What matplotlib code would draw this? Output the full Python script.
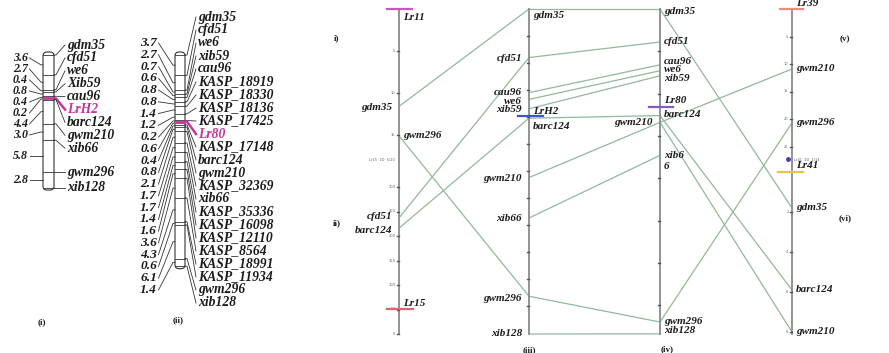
import matplotlib
matplotlib.use('Agg')
import matplotlib.pyplot as plt
from matplotlib.patches import FancyBboxPatch
import numpy as np

# ------------------------------------------------------------------ data
# Linkage map (i)
map1_markers = ['gdm35', 'cfd51', 'we6', 'Xib59', 'cau96', 'LrH2', 'barc124',
                'gwm210', 'xib66', 'gwm296', 'xib128']
map1_intervals = [3.6, 2.7, 0.4, 0.8, 0.4, 0.2, 4.4, 3.0, 5.8, 2.8]
map1_gene = 'LrH2'

# Linkage map (ii)
map2_markers = ['gdm35', 'cfd51', 'we6', 'xib59', 'cau96', 'KASP_18919',
                'KASP_18330', 'KASP_18136', 'KASP_17425', 'Lr80', 'KASP_17148',
                'barc124', 'gwm210', 'KASP_32369', 'xib66', 'KASP_35336',
                'KASP_16098', 'KASP_12110', 'KASP_8564', 'KASP_18991',
                'KASP_11934', 'gwm296', 'xib128']
map2_intervals = [3.7, 2.7, 0.7, 0.6, 0.8, 0.8, 1.4, 1.2, 0.2, 0.6, 0.4, 0.8,
                  2.1, 1.7, 1.7, 1.4, 1.6, 3.6, 4.3, 0.6, 6.1, 1.4]
map2_gene = 'Lr80'

# Comparative axis A: two stacked maps i) and ii)
axA_top_markers = ['Lr11', 'gdm35', 'gwm296']
axA_top_pos = [0.0, 11.6, 15.1]
axA_top_ticks = [5, 10, 15]
axA_bot_markers = ['cfd51', 'barc124', 'Lr15']
axA_bot_pos = [237, 216, 51]
axA_bot_ticks = [0, 50, 100, 150, 200, 250, 300]

# Comparative axis B: map (iii)
axB_markers = ['gdm35', 'cfd51', 'cau96', 'we6', 'xib59', 'LrH2', 'barc124',
               'gwm210', 'xib66', 'gwm296', 'xib128']
axB_pos = [0.0, 3.6, 6.2, 6.7, 7.4, 7.9, 8.1, 12.5, 15.5, 21.3, 24.1]
axB_ticks = list(range(2, 24, 2))

# Comparative axis C: map (iv)
axC_markers = ['gdm35', 'cfd51', 'cau96', 'we6', 'xib59', 'Lr80', 'barc124',
               'gwm210', 'xib66', 'gwm296', 'xib128']
axC_pos = [0.0, 3.9, 6.6, 7.3, 7.9, 11.6, 12.6, 13.4, 17.3, 37.0, 38.4]
axC_ticks = [5, 10, 15, 20, 25, 30, 35]

# Comparative axis D: two stacked maps (v) and (vi)
axD_top_markers = ['Lr39', 'gwm210', 'gwm296']
axD_top_pos = [0.0, 10.9, 20.7]
axD_top_ticks = [5, 10, 15, 20, 25]
axD_bot_markers = ['Lr41', 'gdm35', 'barc124', 'gwm210']
axD_bot_pos = [0.0, 1.8, 5.9, 8.0]
axD_bot_ticks = [2, 4, 6, 8]

# links between comparative axes: (from-section, marker, to-section, marker)
links_AB = [('Atop', 'gdm35', 'B', 'gdm35'), ('Atop', 'gwm296', 'B', 'gwm296'),
            ('Abot', 'cfd51', 'B', 'cfd51'), ('Abot', 'barc124', 'B', 'barc124')]
links_BC = ['gdm35', 'cfd51', 'cau96', 'we6', 'xib59', 'barc124', 'gwm210',
            'xib66', 'gwm296', 'xib128']
links_CD = [('C', 'gdm35', 'Dbot', 'gdm35'), ('C', 'gwm210', 'Dtop', 'gwm210'),
            ('C', 'gwm296', 'Dtop', 'gwm296'), ('C', 'barc124', 'Dbot', 'barc124'),
            ('C', 'gwm210', 'Dbot', 'gwm210')]

# ------------------------------------------------------------------ style
FONT = ['Liberation Serif', 'DejaVu Serif']
INK = '#1c1c1c'
GENE_COL = '#c2369d'
LINK_COL = '#93b89b'
AXIS_COL = '#8a8a8a'

fig = plt.figure(figsize=(8.89, 3.53), dpi=100)
ax = fig.add_axes([0, 0, 1, 1])
ax.set_xlim(0, 889)
ax.set_ylim(353, 0)
ax.axis('off')


def spread(targets, gap, lo=None):
    """Place labels as close as possible to targets with a minimum gap."""
    blocks = []
    for t in targets:
        blocks.append([1, float(t)])
        while len(blocks) > 1:
            p, b = blocks[-2], blocks[-1]
            ps = p[1] / p[0]
            if len(blocks) == 2 and lo is not None:
                ps = max(ps, lo)
            s = b[1] / b[0]
            if ps + gap * p[0] > s:
                p[1] += b[1] - gap * p[0] * b[0]
                p[0] += b[0]
                blocks.pop()
            else:
                break
    out = []
    for j, (n, sm) in enumerate(blocks):
        s = sm / n
        if j == 0 and lo is not None:
            s = max(s, lo)
        out += [s + gap * k for k in range(n)]
    return out


def draw_linkage(markers, intervals, gene, x0, width, y0, scale,
                 gap_r, gap_l, lo_r, lo_l, fs, fs_l, left_x, right_x):
    cm = np.concatenate([[0], np.cumsum(intervals)])
    ym = y0 + scale * cm
    top, bot = ym[0] - 3, ym[-1] + 2.5
    ax.add_patch(FancyBboxPatch((x0, top), width, bot - top,
                                boxstyle='round,pad=0,rounding_size=4',
                                fc='white', ec='#333333', lw=0.8, zorder=2))
    xr = x0 + width
    for y, name in zip(ym, markers):
        if name == gene:
            continue
        ax.plot([x0, xr], [y, y], color='#333333', lw=0.6, zorder=3)
    # right labels
    ly = spread(ym, gap_r, lo_r)
    for y, l, name in zip(ym, ly, markers):
        g = name == gene
        col = GENE_COL if g else '#333333'
        if g:
            ax.plot([x0, xr], [y, y], color=GENE_COL, lw=2.0, zorder=4,
                    solid_capstyle='butt')
        ax.plot([xr, xr + 2, right_x - 2], [y, y, l], color=col,
                lw=1.8 if g else 0.6, zorder=4)
        ax.text(right_x, l, name, fontsize=fs, family=FONT, weight='bold',
                style='italic', color=GENE_COL if g else INK, va='center',
                ha='left')
    # left interval labels
    mids = (ym[:-1] + ym[1:]) / 2
    lly = spread(mids, gap_l, lo_l)
    for m, l, d in zip(mids, lly, intervals):
        ax.plot([left_x + 1.5, x0 - 2, x0], [l, m, m], color='#333333', lw=0.6)
        ax.text(left_x, l, f'{d:.1f}', fontsize=fs_l, family=FONT, weight='bold',
                style='italic', color=INK, va='center', ha='right')


draw_linkage(map1_markers, map1_intervals, map1_gene, 43, 11, 55, 5.5,
             12.9, 11.0, None, None, 9.8, 8.6, 28, 67)
draw_linkage(map2_markers, map2_intervals, map2_gene, 175, 10, 55, 5.5,
             13.0, 11.76, 17, 43, 9.8, 9.6, 157, 198)

ax.text(42, 322, '(i)', fontsize=6.5, family=FONT, weight='bold', ha='center',
        va='center', color=INK)
ax.text(178, 320, '(ii)', fontsize=6.5, family=FONT, weight='bold', ha='center',
        va='center', color=INK)

# ------------------------------------------------------------------ comparative part
sections = {
    'Atop': dict(x=399, y0=9, k=8.4, names=axA_top_markers, pos=axA_top_pos),
    'Abot': dict(x=399, y0=334, k=-0.49, names=axA_bot_markers, pos=axA_bot_pos),
    'B': dict(x=529, y0=9, k=325 / 24.1, names=axB_markers, pos=axB_pos),
    'C': dict(x=660, y0=9, k=8.46, names=axC_markers, pos=axC_pos),
    'Dtop': dict(x=792, y0=9, k=5.5, names=axD_top_markers, pos=axD_top_pos),
    'Dbot': dict(x=792, y0=172, k=20.0, names=axD_bot_markers, pos=axD_bot_pos),
}


def ypos(sec, name):
    s = sections[sec]
    return s['y0'] + s['k'] * s['pos'][s['names'].index(name)]


def yval(sec, v):
    s = sections[sec]
    return s['y0'] + s['k'] * v


# axis lines
for xa in (399, 529, 660, 792):
    ax.plot([xa, xa], [9, 334], color=AXIS_COL, lw=1.3, zorder=2)

# ticks
tick_sets = [('Atop', axA_top_ticks, True), ('Abot', axA_bot_ticks, True),
             ('B', axB_ticks, False), ('C', axC_ticks, False),
             ('Dtop', axD_top_ticks, True), ('Dbot', axD_bot_ticks, True)]
for sec, ticks, lab in tick_sets:
    xa = sections[sec]['x']
    for t in ticks:
        y = yval(sec, t)
        ax.plot([xa - 2.5, xa], [y, y], color='#555555', lw=1.0, zorder=3)
        if lab:
            ax.text(xa - 3.5, y, str(t), fontsize=2.6, color='#666666',
                    ha='right', va='center')


def link(s1, n1, s2, n2):
    ax.plot([sections[s1]['x'], sections[s2]['x']], [ypos(s1, n1), ypos(s2, n2)],
            color=LINK_COL, lw=0.9, zorder=1)


for s1, n1, s2, n2 in links_AB:
    link(s1, n1, s2, n2)
for n in links_BC:
    link('B', n, 'C', n)
for s1, n1, s2, n2 in links_CD:
    link(s1, n1, s2, n2)

# gene bars
gene_bars = [('Atop', 'Lr11', '#c45bb8', -12, 13), ('Abot', 'Lr15', '#e0607a', -12, 14),
             ('B', 'LrH2', '#3f55c8', -11, 14), ('C', 'Lr80', '#7e5ec4', -11, 13),
             ('Dtop', 'Lr39', '#ee8a76', -12, 11), ('Dbot', 'Lr41', '#e3c64a', -14, 11)]
for sec, n, col, a, b in gene_bars:
    y = ypos(sec, n)
    xa = sections[sec]['x']
    ax.plot([xa + a, xa + b], [y, y], color=col, lw=1.6, zorder=4)

# marker labels: (section, name, side, dy)
label_layout = [
    ('Atop', 'Lr11', 'R', 8), ('Atop', 'gdm35', 'L', 1), ('Atop', 'gwm296', 'R', 0),
    ('Abot', 'cfd51', 'L', -1), ('Abot', 'barc124', 'L', 2), ('Abot', 'Lr15', 'R', -6),
    ('B', 'gdm35', 'R', 7), ('B', 'cfd51', 'L', 1), ('B', 'cau96', 'L', 0),
    ('B', 'we6', 'L', 2), ('B', 'xib59', 'L', 1), ('B', 'LrH2', 'R', -4),
    ('B', 'barc124', 'R', 8), ('B', 'gwm210', 'L', 1), ('B', 'xib66', 'L', 0),
    ('B', 'gwm296', 'L', 2), ('B', 'xib128', 'L', -1),
    ('C', 'gdm35', 'R', 2), ('C', 'cfd51', 'R', 0), ('C', 'cau96', 'R', -3),
    ('C', 'we6', 'R', -1), ('C', 'xib59', 'R', 3), ('C', 'Lr80', 'R', -7),
    ('C', 'barc124', 'R', -1), ('C', 'gwm210', 'L', 0), ('C', 'xib66', 'R', 6),
    ('C', 'gwm296', 'R', -1), ('C', 'xib128', 'R', -3),
    ('Dtop', 'Lr39', 'R', -5), ('Dtop', 'gwm210', 'R', 0), ('Dtop', 'gwm296', 'R', 0),
    ('Dbot', 'Lr41', 'R', -7), ('Dbot', 'gdm35', 'R', 0), ('Dbot', 'barc124', 'R', 0),
    ('Dbot', 'gwm210', 'R', 0),
]
for sec, n, side, dy in label_layout:
    xa = sections[sec]['x']
    y = ypos(sec, n) + dy
    txt = n
    if sec == 'C' and n == 'xib66':
        txt = 'xib6\n6'
    if side == 'R':
        ax.text(xa + 4, y, txt, fontsize=8.0, family=FONT, weight='bold',
                style='italic', color=INK, ha='left', va='center', linespacing=1.25)
    else:
        ax.text(xa - 7, y, txt, fontsize=8.0, family=FONT, weight='bold',
                style='italic', color=INK, ha='right', va='center')

# separators of stacked maps
ax.text(395, 160, 'Lr15  2D  5/20', fontsize=2.6, color='#666666', ha='right',
        va='center')
ax.plot([788], [159], marker='o', ms=2.5, color='#4b3bb0', zorder=5)
ax.text(794, 160, 'Lr41  2D  1/14', fontsize=2.6, color='#666666', ha='left',
        va='center')

# panel labels
for x, y, t in [(337, 38, 'i)'), (337, 223, 'ii)'), (529, 350, '(iii)'),
                (667, 349, '(iv)'), (845, 39, '(v)'), (845, 218, '(vi)')]:
    ax.text(x, y, t, fontsize=6.5, family=FONT, weight='bold', color=INK,
            ha='center', va='center')

fig.savefig('out.png', dpi=100)
